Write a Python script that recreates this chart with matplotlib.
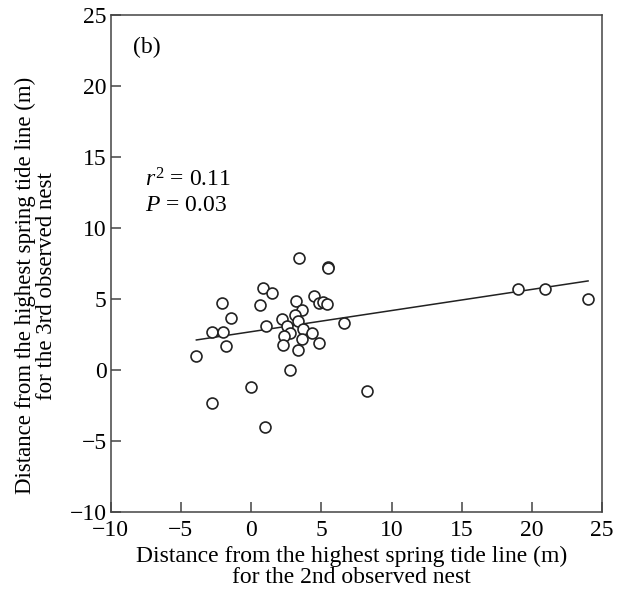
import matplotlib
matplotlib.use("Agg")
import matplotlib.pyplot as plt
import numpy as np

# Data
x_2nd = [0.83, 1.50, -2.09, 0.62, 3.18, 4.51, 4.87, 5.15, 5.44, 3.61, 3.14, -1.40,
         2.21, 3.35, 6.63, 1.09, 2.54, -2.78, -1.97, 2.78, 3.71, 4.32, 2.33, 3.63,
         -1.78, 2.30, 4.85, 3.33, -3.90, 2.80, 0.02, 8.29, -2.78, 1.00,
         3.42, 5.51, 5.51, 19.0, 20.9, 24.0]
y_3rd = [5.80, 5.40, 4.70, 4.60, 4.88, 5.21, 4.70, 4.81, 4.63, 4.20, 3.87, 3.68,
         3.59, 3.47, 3.33, 3.08, 3.10, 2.68, 2.68, 2.63, 2.89, 2.61, 2.39, 2.18,
         1.71, 1.78, 1.92, 1.41, 1.01, 0.00, -1.17, -1.50, -2.30, -3.99,
         7.87, 7.28, 7.16, 5.68, 5.68, 4.98]
fit_intercept = 2.69
fit_slope = 0.149
xticks = [-10, -5, 0, 5, 10, 15, 20, 25]
yticks = [-10, -5, 0, 5, 10, 15, 20, 25]

plt.rcParams['font.family'] = ['Liberation Serif', 'DejaVu Serif']
plt.rcParams['mathtext.fontset'] = 'custom'
plt.rcParams['mathtext.rm'] = 'Liberation Serif'
plt.rcParams['mathtext.it'] = 'Liberation Serif:italic'

FS = 17
fig = plt.figure(figsize=(6.22, 5.98), dpi=100)
ax = fig.add_axes([0.178, 0.144, 0.79, 0.831])

spine_color = '#444444'
ax.scatter(x_2nd, y_3rd, s=62, facecolors='white', edgecolors='#222222',
           linewidths=1.2, zorder=3)
xl = np.array([min(x_2nd), max(x_2nd)])
ax.plot(xl, fit_intercept + fit_slope * xl, color='#222222', lw=1.1, zorder=2)

ax.set_xlim(-10, 25)
ax.set_ylim(-10, 25)
ax.set_xticks(xticks)
ax.set_yticks(yticks)
ax.set_xticklabels([str(t).replace('-', '\u2212') for t in xticks])
ax.set_yticklabels([str(t).replace('-', '\u2212') for t in yticks])
ax.tick_params(direction='in', length=7, width=1.1, color=spine_color,
               labelsize=FS, top=False, right=False)
ax.tick_params(axis='x', pad=6)
ax.tick_params(axis='y', pad=3)
for s in ax.spines.values():
    s.set_color(spine_color)
    s.set_linewidth(1.1)

ax.set_xlabel('Distance from the highest spring tide line (m)\nfor the 2nd observed nest',
              fontsize=FS, linespacing=1.0)
ax.set_ylabel('Distance from the highest spring tide line (m)\nfor the 3rd observed nest',
              fontsize=16.5, linespacing=1.0)
ax.xaxis.set_label_coords(0.49, -0.068, transform=ax.transAxes)
ax.xaxis.label.set_va('top')
ax.yaxis.set_label_coords(-0.11, 0.455, transform=ax.transAxes)
ax.yaxis.label.set_va('bottom')

ax.text(-8.4, 22.7, '(b)', fontsize=FS, ha='left', va='center')
ax.text(-7.55, 13.4, r'$r^2$ = 0.11', fontsize=FS, ha='left', va='center')
ax.text(-7.55, 11.6, r'$P$ = 0.03', fontsize=FS, ha='left', va='center')

fig.savefig('out.png', dpi=100)
